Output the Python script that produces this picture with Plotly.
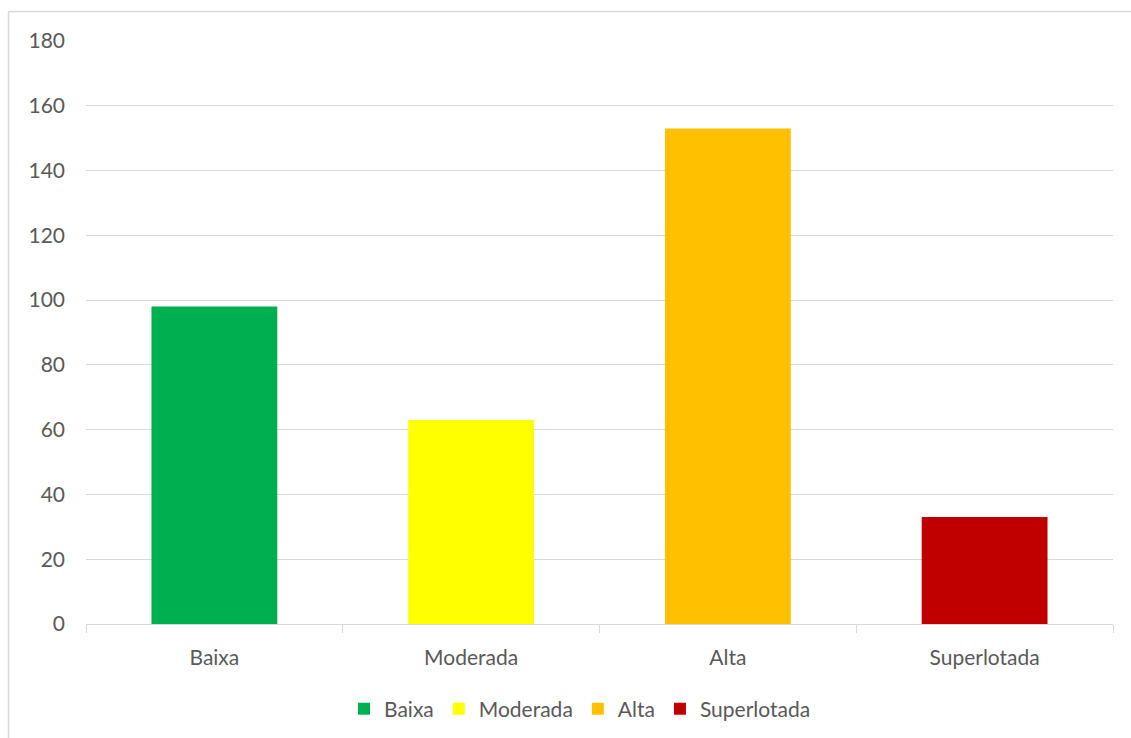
import plotly.graph_objects as go

categories = ["Baixa", "Moderada", "Alta", "Superlotada"]
values = [98, 63, 153, 33]
colors = ["#00B050", "#FFFF00", "#FFC000", "#C00000"]
y_ticks = [0, 20, 40, 60, 80, 100, 120, 140, 160, 180]

W, H = 1131, 738
L, R, T, B = 86, 18, 41, 114
pw, ph = W - L - R, H - T - B

fig = go.Figure()
for cat, val, col in zip(categories, values, colors):
    fig.add_trace(go.Bar(x=[cat], y=[val], name=cat, marker=dict(color=col, line=dict(width=0)),
                         width=0.49))

font_family = "Lato, 'Open Sans', sans-serif"
FS = 21
fig.update_layout(
    width=W, height=H,
    margin=dict(l=L, r=R, t=T, b=B, pad=0, autoexpand=False),
    paper_bgcolor="white", plot_bgcolor="white",
    barmode="relative",
    font=dict(family=font_family, size=FS, color="#595959"),
    showlegend=True,
    legend=dict(orientation="h", x=(580 - L) / pw, xanchor="center", y=(T + ph - 709) / ph,
                yanchor="middle", font=dict(size=FS, color="#595959"), itemwidth=30,
                traceorder="normal"),
    xaxis=dict(categoryorder="array", categoryarray=categories, showline=True, linecolor="#d9d9d9",
               linewidth=1, ticks="outside", tickson="boundaries", ticklen=8, tickcolor="#d9d9d9",
               showgrid=False, ticklabelstandoff=15, automargin=False,
               tickfont=dict(size=FS, color="#595959")),
    yaxis=dict(range=[0, 180], tickvals=y_ticks, showgrid=True, gridcolor="#d9d9d9", gridwidth=1,
               zeroline=False, showline=False, ticks="", ticklabelstandoff=20, automargin=False,
               tickfont=dict(size=FS, color="#595959")),
    shapes=[
        dict(type="line", xref="paper", yref="paper", x0=(8.5 - L) / pw, x1=1.3,
             y0=1 + (T - 11.5) / ph, y1=1 + (T - 11.5) / ph, line=dict(color="#d9d9d9", width=1.5)),
        dict(type="line", xref="paper", yref="paper", x0=(8.5 - L) / pw, x1=(8.5 - L) / pw,
             y0=1 + (T - 11.5) / ph, y1=-0.5, line=dict(color="#d9d9d9", width=1.5)),
    ],
)

fig.write_html("out.html")
